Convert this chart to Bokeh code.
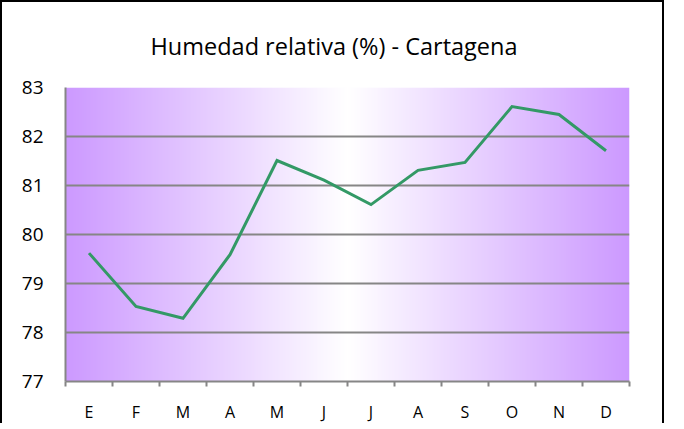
import numpy as np
from bokeh.plotting import figure
from bokeh.models import Range1d, FactorRange, LinearAxis, FixedTicker, Title, CustomJSTickFormatter
from bokeh.embed import file_html
from bokeh.resources import INLINE

# ---- data ----
month_keys = ["Ene", "Feb", "Mar", "Abr", "May", "Jun", "Jul", "Ago", "Sep", "Oct", "Nov", "Dic"]
month_labels = ["E", "F", "M", "A", "M", "J", "J", "A", "S", "O", "N", "D"]
humidity = [79.62, 78.53, 78.29, 79.59, 81.51, 81.11, 80.61, 81.31, 81.47, 82.61, 82.45, 81.71]
y_ticks = [77, 78, 79, 80, 81, 82, 83]
title_text = "Humedad relativa (%) - Cartagena"

GRID = "#868686"
FONT = "Open Sans"

p = figure(
    x_range=FactorRange(*month_keys, range_padding=0),
    y_range=Range1d(y_ticks[0], y_ticks[-1]),
    width=664, height=423,
    output_backend="svg", toolbar_location=None,
    x_axis_location=None, y_axis_location="left",
    min_border_left=63, min_border_right=37, min_border_top=84, min_border_bottom=40,
    background_fill_color="white", border_fill_color="white",
    outline_line_color=None,
    styles={"border-left": "2px solid black", "border-top": "2px solid black",
            "border-right": "2px solid black"},
)

p.title = Title(text=title_text, align="left", text_font=FONT, text_font_size="23.5px",
                text_font_style="normal", text_color="black", standoff=51, offset=85)

n_cat = len(month_keys)

# horizontal purple-white-purple gradient background (synthetic category coords 0..n)
n = 400
t = np.abs(np.linspace(-1, 1, n))
purple = np.array([204, 153, 255])
rgb = (255 + (purple - 255)[None, :] * t[:, None]).round().astype(np.uint8)
img = np.zeros((1, n), dtype=np.uint32)
view = img.view(dtype=np.uint8).reshape((1, n, 4))
view[0, :, 0:3] = rgb
view[0, :, 3] = 255
p.image_rgba(image=[img], x=0, y=y_ticks[0], dw=n_cat, dh=y_ticks[-1] - y_ticks[0],
             level="image")

# y axis
yax = p.yaxis[0]
yax.ticker = FixedTicker(ticks=y_ticks)
yax.axis_line_color = GRID
yax.axis_line_width = 2
yax.major_tick_in = 0
yax.major_tick_out = 0
yax.minor_tick_in = 0
yax.minor_tick_out = 0
yax.major_label_standoff = 22
yax.major_label_text_font = FONT
yax.major_label_text_font_size = "19px"
yax.major_label_text_color = "black"

for g in p.grid:
    if g.dimension == 1:
        g.ticker = FixedTicker(ticks=y_ticks)
        g.grid_line_color = GRID
        g.grid_line_width = 2
    else:
        g.visible = False

# x axis: labels at category centres, tick marks on category boundaries
x_axis = LinearAxis(
    ticker=FixedTicker(ticks=[i + 0.5 for i in range(n_cat)],
                       minor_ticks=list(range(n_cat + 1))),
    formatter=CustomJSTickFormatter(args=dict(labels=month_labels),
                                    code="return labels[Math.floor(tick)];"),
    major_tick_in=0, major_tick_out=0,
    minor_tick_in=0, minor_tick_out=5,
    axis_line_color=GRID, axis_line_width=2,
    minor_tick_line_color=GRID, minor_tick_line_width=2,
    major_label_text_font=FONT, major_label_text_font_size="16px",
    major_label_text_color="black", major_label_standoff=14,
)
p.add_layout(x_axis, "below")

p.line(x=month_keys, y=humidity, line_color="#339966", line_width=3, line_join="miter")

open("out.html", "w").write(file_html(p, INLINE))
